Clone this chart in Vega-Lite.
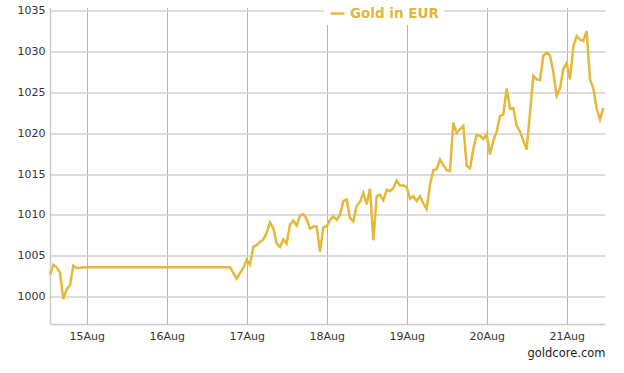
{
  "$schema": "https://vega.github.io/schema/vega-lite/v6.json",
  "autosize": "none",
  "width": 555,
  "height": 316.5,
  "padding": {"left": 50, "top": 7.5, "right": 19, "bottom": 49},
  "background": "white",
  "config": {
    "view": {"stroke": null},
    "font": "DejaVu Sans"
  },
  "data": {
    "values": [
      {"t": "2015-08-14T13:00", "v": 1002.7},
      {"t": "2015-08-14T14:00", "v": 1003.9},
      {"t": "2015-08-14T15:00", "v": 1003.6},
      {"t": "2015-08-14T16:00", "v": 1002.9},
      {"t": "2015-08-14T17:00", "v": 999.7},
      {"t": "2015-08-14T18:00", "v": 1000.9},
      {"t": "2015-08-14T19:00", "v": 1001.4},
      {"t": "2015-08-14T20:00", "v": 1003.8},
      {"t": "2015-08-14T21:00", "v": 1003.5},
      {"t": "2015-08-14T22:00", "v": 1003.5},
      {"t": "2015-08-14T23:00", "v": 1003.6},
      {"t": "2015-08-15T00:00", "v": 1003.6},
      {"t": "2015-08-16T19:00", "v": 1003.6},
      {"t": "2015-08-16T21:00", "v": 1002.2},
      {"t": "2015-08-16T22:00", "v": 1002.9},
      {"t": "2015-08-16T23:00", "v": 1003.5},
      {"t": "2015-08-17T00:00", "v": 1004.5},
      {"t": "2015-08-17T01:00", "v": 1003.9},
      {"t": "2015-08-17T02:00", "v": 1006.1},
      {"t": "2015-08-17T03:00", "v": 1006.3},
      {"t": "2015-08-17T04:00", "v": 1006.7},
      {"t": "2015-08-17T05:00", "v": 1007.0},
      {"t": "2015-08-17T06:00", "v": 1007.8},
      {"t": "2015-08-17T07:00", "v": 1009.1},
      {"t": "2015-08-17T08:00", "v": 1008.4},
      {"t": "2015-08-17T09:00", "v": 1006.5},
      {"t": "2015-08-17T10:00", "v": 1006.1},
      {"t": "2015-08-17T11:00", "v": 1007.0},
      {"t": "2015-08-17T12:00", "v": 1006.5},
      {"t": "2015-08-17T13:00", "v": 1008.8},
      {"t": "2015-08-17T14:00", "v": 1009.3},
      {"t": "2015-08-17T15:00", "v": 1008.7},
      {"t": "2015-08-17T16:00", "v": 1009.9},
      {"t": "2015-08-17T17:00", "v": 1010.1},
      {"t": "2015-08-17T18:00", "v": 1009.5},
      {"t": "2015-08-17T19:00", "v": 1008.3},
      {"t": "2015-08-17T20:00", "v": 1008.6},
      {"t": "2015-08-17T21:00", "v": 1008.6},
      {"t": "2015-08-17T22:00", "v": 1005.5},
      {"t": "2015-08-17T23:00", "v": 1008.5},
      {"t": "2015-08-18T00:00", "v": 1008.6},
      {"t": "2015-08-18T01:00", "v": 1009.4},
      {"t": "2015-08-18T02:00", "v": 1009.8},
      {"t": "2015-08-18T03:00", "v": 1009.4},
      {"t": "2015-08-18T04:00", "v": 1010.0},
      {"t": "2015-08-18T05:00", "v": 1011.7},
      {"t": "2015-08-18T06:00", "v": 1011.9},
      {"t": "2015-08-18T07:00", "v": 1009.6},
      {"t": "2015-08-18T08:00", "v": 1009.2},
      {"t": "2015-08-18T09:00", "v": 1011.1},
      {"t": "2015-08-18T10:00", "v": 1011.6},
      {"t": "2015-08-18T11:00", "v": 1012.7},
      {"t": "2015-08-18T12:00", "v": 1011.3},
      {"t": "2015-08-18T13:00", "v": 1013.2},
      {"t": "2015-08-18T14:00", "v": 1006.9},
      {"t": "2015-08-18T15:00", "v": 1012.3},
      {"t": "2015-08-18T16:00", "v": 1012.5},
      {"t": "2015-08-18T17:00", "v": 1011.8},
      {"t": "2015-08-18T18:00", "v": 1013.1},
      {"t": "2015-08-18T19:00", "v": 1012.9},
      {"t": "2015-08-18T20:00", "v": 1013.3},
      {"t": "2015-08-18T21:00", "v": 1014.2},
      {"t": "2015-08-18T22:00", "v": 1013.6},
      {"t": "2015-08-18T23:00", "v": 1013.6},
      {"t": "2015-08-19T00:00", "v": 1013.4},
      {"t": "2015-08-19T01:00", "v": 1012.0},
      {"t": "2015-08-19T02:00", "v": 1012.3},
      {"t": "2015-08-19T03:00", "v": 1011.7},
      {"t": "2015-08-19T04:00", "v": 1012.3},
      {"t": "2015-08-19T05:00", "v": 1011.4},
      {"t": "2015-08-19T06:00", "v": 1010.7},
      {"t": "2015-08-19T07:00", "v": 1013.7},
      {"t": "2015-08-19T08:00", "v": 1015.5},
      {"t": "2015-08-19T09:00", "v": 1015.6},
      {"t": "2015-08-19T10:00", "v": 1016.8},
      {"t": "2015-08-19T11:00", "v": 1016.1},
      {"t": "2015-08-19T12:00", "v": 1015.5},
      {"t": "2015-08-19T13:00", "v": 1015.4},
      {"t": "2015-08-19T14:00", "v": 1021.3},
      {"t": "2015-08-19T15:00", "v": 1020.0},
      {"t": "2015-08-19T16:00", "v": 1020.5},
      {"t": "2015-08-19T17:00", "v": 1020.9},
      {"t": "2015-08-19T18:00", "v": 1016.0},
      {"t": "2015-08-19T19:00", "v": 1015.7},
      {"t": "2015-08-19T20:00", "v": 1018.1},
      {"t": "2015-08-19T21:00", "v": 1019.8},
      {"t": "2015-08-19T22:00", "v": 1019.7},
      {"t": "2015-08-19T23:00", "v": 1019.3},
      {"t": "2015-08-20T00:00", "v": 1019.9},
      {"t": "2015-08-20T01:00", "v": 1017.4},
      {"t": "2015-08-20T02:00", "v": 1019.1},
      {"t": "2015-08-20T03:00", "v": 1020.2},
      {"t": "2015-08-20T04:00", "v": 1022.1},
      {"t": "2015-08-20T05:00", "v": 1022.3},
      {"t": "2015-08-20T06:00", "v": 1025.5},
      {"t": "2015-08-20T07:00", "v": 1023.0},
      {"t": "2015-08-20T08:00", "v": 1023.1},
      {"t": "2015-08-20T09:00", "v": 1020.9},
      {"t": "2015-08-20T10:00", "v": 1020.2},
      {"t": "2015-08-20T11:00", "v": 1019.1},
      {"t": "2015-08-20T12:00", "v": 1018.0},
      {"t": "2015-08-20T13:00", "v": 1022.5},
      {"t": "2015-08-20T14:00", "v": 1027.0},
      {"t": "2015-08-20T15:00", "v": 1026.6},
      {"t": "2015-08-20T16:00", "v": 1026.5},
      {"t": "2015-08-20T17:00", "v": 1029.5},
      {"t": "2015-08-20T18:00", "v": 1029.9},
      {"t": "2015-08-20T19:00", "v": 1029.5},
      {"t": "2015-08-20T20:00", "v": 1027.5},
      {"t": "2015-08-20T21:00", "v": 1024.6},
      {"t": "2015-08-20T22:00", "v": 1025.5},
      {"t": "2015-08-20T23:00", "v": 1027.9},
      {"t": "2015-08-21T00:00", "v": 1028.6},
      {"t": "2015-08-21T01:00", "v": 1026.6},
      {"t": "2015-08-21T02:00", "v": 1030.6},
      {"t": "2015-08-21T03:00", "v": 1031.9},
      {"t": "2015-08-21T04:00", "v": 1031.5},
      {"t": "2015-08-21T05:00", "v": 1031.3},
      {"t": "2015-08-21T06:00", "v": 1032.5},
      {"t": "2015-08-21T07:00", "v": 1026.6},
      {"t": "2015-08-21T08:00", "v": 1025.5},
      {"t": "2015-08-21T09:00", "v": 1023.0},
      {"t": "2015-08-21T10:00", "v": 1021.7},
      {"t": "2015-08-21T11:00", "v": 1023.1}
    ]
  },
  "mark": {"type": "line", "strokeWidth": 2.5, "interpolate": "linear"},
  "encoding": {
    "x": {
      "field": "t",
      "type": "temporal",
      "scale": {
        "domain": [
          {"year": 2015, "month": 8, "date": 14, "hours": 13},
          {"year": 2015, "month": 8, "date": 21, "hours": 11, "minutes": 30}
        ]
      },
      "axis": {
        "format": "%d%b",
        "tickCount": {"interval": "day", "step": 1},
        "grid": true,
        "gridColor": "#b4b4b4",
        "gridWidth": 1,
        "ticks": false,
        "domainColor": "#cccccc",
        "domainWidth": 1.5,
        "labelFont": "DejaVu Sans",
        "labelFontSize": 11,
        "labelColor": "#333333",
        "labelPadding": 6,
        "labelFlush": false,
        "title": "goldcore.com",
        "titleAnchor": "end",
        "titleFont": "DejaVu Sans",
        "titleFontSize": 11.5,
        "titleFontWeight": "normal",
        "titleColor": "#222222",
        "titlePadding": 6
      }
    },
    "y": {
      "field": "v",
      "type": "quantitative",
      "scale": {"domain": [996.65, 1035.4], "nice": false, "zero": false},
      "axis": {
        "values": [1000, 1005, 1010, 1015, 1020, 1025, 1030, 1035],
        "format": "d",
        "grid": true,
        "gridColor": "#d0d0d0",
        "gridWidth": 1.5,
        "ticks": false,
        "domainColor": "#cccccc",
        "domainWidth": 1.5,
        "labelFont": "DejaVu Sans",
        "labelFontSize": 11,
        "labelColor": "#333333",
        "labelPadding": 5,
        "title": null
      }
    },
    "color": {
      "datum": "Gold in EUR",
      "scale": {"range": ["#E5B83A"]},
      "legend": {
        "orient": "none",
        "legendX": 274,
        "legendY": -7.5,
        "title": null,
        "fillColor": "white",
        "padding": 5,
        "symbolType": "stroke",
        "symbolStrokeWidth": 2.5,
        "symbolSize": 196,
        "labelFont": "DejaVu Sans",
        "labelFontSize": 13.5,
        "labelFontWeight": "bold",
        "labelColor": "#E2B53C",
        "labelOffset": 4
      }
    }
  }
}
